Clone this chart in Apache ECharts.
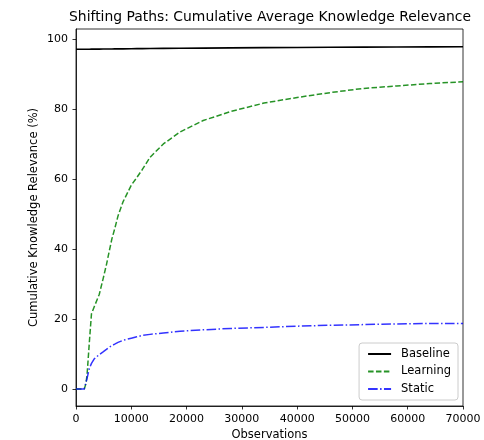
<!DOCTYPE html>
<html>
<head>
<meta charset="utf-8">
<script src="https://cdn.jsdelivr.net/npm/echarts@6/dist/echarts.min.js"></script>
<style>html,body{margin:0;padding:0;background:#fff;}#c{width:484px;height:440px;}</style>
</head>
<body>
<div id="c"></div>
<script>
const titleText = 'Shifting Paths: Cumulative Average Knowledge Relevance';
const xName = 'Observations';
const yName = 'Cumulative Knowledge Relevance (%)';
const seriesNames = ['Baseline', 'Learning', 'Static'];
const xTicks = [0, 10000, 20000, 30000, 40000, 50000, 60000, 70000];
const yTicks = [0, 20, 40, 60, 80, 100];

const observations = [0, 1000, 1500, 1800, 2000, 2400, 2800, 3300, 4200, 4900, 5500, 6000, 6500, 7000, 7600, 8500, 10000, 11000, 12000, 13400, 15800, 18800, 23000, 28000, 34000, 40000, 46000, 52000, 58000, 64000, 70000];
const baseline = [97.2, 97.2, 97.2, 97.2, 97.22, 97.22, 97.23, 97.23, 97.25, 97.26, 97.27, 97.28, 97.29, 97.3, 97.31, 97.32, 97.35, 97.37, 97.39, 97.41, 97.45, 97.49, 97.54, 97.6, 97.66, 97.71, 97.76, 97.8, 97.84, 97.87, 97.9];
const learning = [0, 0, 0, 1.5, 4, 13, 21.5, 23.5, 27, 31.5, 35.5, 39.3, 43, 45.8, 49.5, 53.5, 58.3, 60.5, 62.8, 66.3, 70.1, 73.5, 76.8, 79.4, 81.8, 83.4, 84.8, 86, 86.7, 87.4, 87.9];
const staticVals = [0, 0, 0, 1.8, 3, 5.8, 7.3, 8.6, 9.8, 10.6, 11.3, 11.9, 12.4, 12.8, 13.3, 13.9, 14.5, 14.9, 15.3, 15.6, 16, 16.5, 16.9, 17.3, 17.6, 17.95, 18.2, 18.4, 18.6, 18.7, 18.7];

const pairs = arr => observations.map((x, i) => [x, arr[i]]);
const FONT = 'DejaVu Sans';

const chart = echarts.init(document.getElementById('c'), null, {renderer: 'canvas'});
chart.setOption({
  animation: false,
  backgroundColor: '#fff',
  textStyle: {fontFamily: FONT},
  title: {
    text: titleText,
    left: 265,
    textAlign: 'center',
    top: 5,
    textStyle: {fontFamily: FONT, fontSize: 13.9, fontWeight: 'normal', color: '#000'}
  },
  grid: {
    left: 76, right: 21, top: 29, bottom: 34,
    outerBoundsMode: 'none',
    containLabel: false,
    show: true, borderColor: '#000', borderWidth: 0.8, backgroundColor: 'transparent'
  },
  legend: {
    orient: 'vertical',
    right: 26, bottom: 40,
    data: seriesNames,
    itemWidth: 23, itemHeight: 10, itemGap: 5.5,
    padding: [5, 7, 5, 8],
    borderColor: '#cccccc', borderWidth: 1, borderRadius: 3,
    backgroundColor: 'rgba(255,255,255,0.8)',
    align: 'left',
    itemStyle: {opacity: 0},
    textStyle: {fontFamily: FONT, fontSize: 11.5, lineHeight: 12, color: '#000', padding: [0, 0, 0, 5]}
  },
  xAxis: {
    type: 'value',
    min: 0, max: 70000,
    name: xName, nameLocation: 'middle', nameGap: 23,
    nameMoveOverlap: false,
    nameTextStyle: {fontFamily: FONT, fontSize: 11.5, color: '#000'},
    axisLine: {show: true, onZero: false, lineStyle: {color: '#000', width: 0.8}},
    axisTick: {show: true, length: 3.5, lineStyle: {color: '#000', width: 0.8}, customValues: xTicks},
    axisLabel: {fontFamily: FONT, fontSize: 11, color: '#000', margin: 8, customValues: xTicks,
                formatter: v => String(v)},
    splitLine: {show: false}
  },
  yAxis: {
    type: 'value',
    min: -4.9, max: 103.0,
    name: yName, nameLocation: 'middle', nameGap: 42,
    nameMoveOverlap: false,
    nameTextStyle: {fontFamily: FONT, fontSize: 11.5, color: '#000', verticalAlign: 'middle'},
    axisLine: {show: true, onZero: false, lineStyle: {color: '#000', width: 0.8}},
    axisTick: {show: true, length: 3.5, lineStyle: {color: '#000', width: 0.8}, customValues: yTicks},
    axisLabel: {fontFamily: FONT, fontSize: 11, color: '#000', margin: 8, customValues: yTicks,
                formatter: v => String(v)},
    splitLine: {show: false}
  },
  series: [
    {name: seriesNames[0], type: 'line', data: pairs(baseline), symbol: 'none', smooth: false,
     lineStyle: {color: '#000', width: 1.6}, itemStyle: {color: '#000'}},
    {name: seriesNames[1], type: 'line', data: pairs(learning), symbol: 'none', smooth: false,
     lineStyle: {color: '#008000', width: 1.5, type: [5.5, 2.4], opacity: 0.85}, itemStyle: {color: '#008000'}},
    {name: seriesNames[2], type: 'line', data: pairs(staticVals), symbol: 'none', smooth: false,
     lineStyle: {color: '#0000ff', width: 1.5, type: [9.6, 2.4, 1.5, 2.4], opacity: 0.8}, itemStyle: {color: '#0000ff'}}
  ]
});
</script>
</body>
</html>
